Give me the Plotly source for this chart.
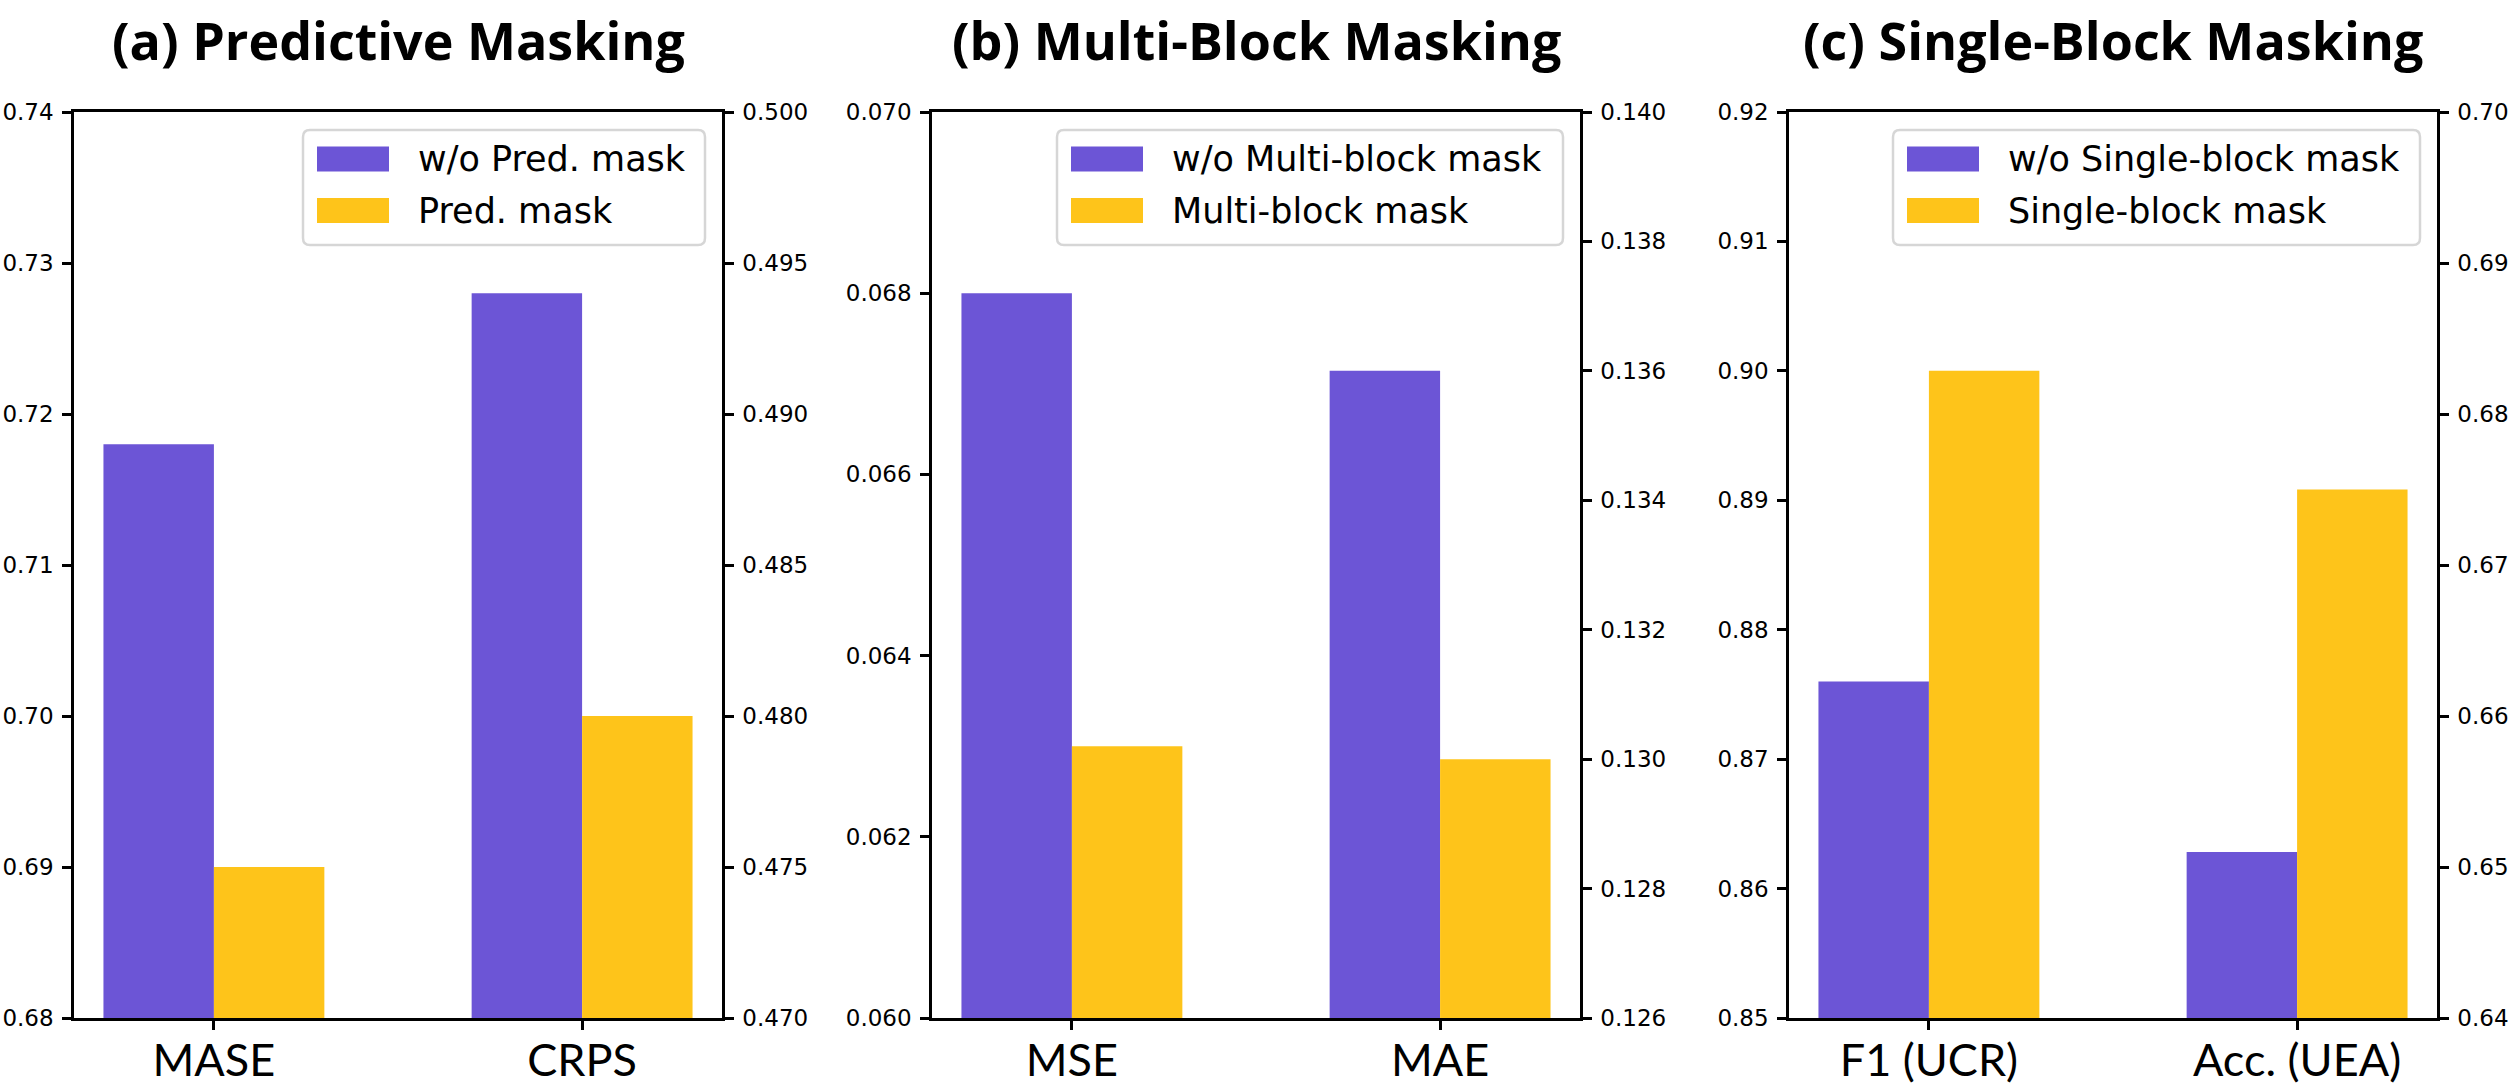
import plotly.graph_objects as go

W, H = 2511, 1088

# ---------------- data ----------------
panel_titles = ["(a) Predictive Masking", "(b) Multi-Block Masking", "(c) Single-Block Masking"]
categories_a = ["MASE", "CRPS"]
categories_b = ["MSE", "MAE"]
categories_c = ["F1 (UCR)", "Acc. (UEA)"]
series_a = ["w/o Pred. mask", "Pred. mask"]
series_b = ["w/o Multi-block mask", "Multi-block mask"]
series_c = ["w/o Single-block mask", "Single-block mask"]
# first value -> left axis metric, second value -> right axis metric
without_a = [0.718, 0.494]
with_a = [0.690, 0.480]
without_b = [0.068, 0.136]
with_b = [0.063, 0.130]
without_c = [0.876, 0.651]
with_c = [0.900, 0.675]
left_ranges = [[0.68, 0.74], [0.060, 0.070], [0.85, 0.92]]
left_dticks = [0.01, 0.002, 0.01]
left_formats = [".2f", ".3f", ".2f"]
right_ranges = [[0.470, 0.500], [0.126, 0.140], [0.64, 0.70]]
right_dticks = [0.005, 0.002, 0.01]
right_formats = [".3f", ".3f", ".2f"]
colors = ["#6C55D6", "#FEC41A"]

categories = [categories_a, categories_b, categories_c]
series = [series_a, series_b, series_c]
without_vals = [without_a, without_b, without_c]
with_vals = [with_a, with_b, with_c]

# ---------------- layout constants (pixels) ----------------
panel_left = [74, 932, 1789]
panel_w = 648
top_px, bottom_px = 112, 1018
legend_left = [303, 1057, 1893]
legend_top, legend_bottom = 130, 245
row_y = [159, 210.5]
BAR_W = 0.3
LINE_W = 2.5


def px(x):
    return x / W


def py(y):
    return 1 - y / H


fig = go.Figure()
layout = dict(
    width=W, height=H, margin=dict(l=0, r=0, t=0, b=0, autoexpand=False),
    paper_bgcolor="white", plot_bgcolor="white",
    showlegend=False, barmode="overlay",
)

shapes = []
annotations = []

for i in range(3):
    xname = "x" if i == 0 else f"x{i+1}"
    yl = 2 * i + 1
    yr = 2 * i + 2
    ylname = "y" if yl == 1 else f"y{yl}"
    yrname = f"y{yr}"
    dom_x = [px(panel_left[i]), px(panel_left[i] + panel_w)]
    dom_y = [py(bottom_px), py(top_px)]

    # bars: category 0 on left axis, category 1 on right axis
    for ci, yname in enumerate([ylname, yrname]):
        fig.add_trace(go.Bar(
            x=[ci], y=[without_vals[i][ci]], xaxis=xname, yaxis=yname,
            width=BAR_W, offset=-BAR_W, marker=dict(color=colors[0], line=dict(width=0)),
            name=series[i][0],
        ))
        fig.add_trace(go.Bar(
            x=[ci], y=[with_vals[i][ci]], xaxis=xname, yaxis=yname,
            width=BAR_W, offset=0, marker=dict(color=colors[1], line=dict(width=0)),
            name=series[i][1],
        ))

    xkey = "xaxis" if i == 0 else f"xaxis{i+1}"
    ylkey = "yaxis" if yl == 1 else f"yaxis{yl}"
    yrkey = f"yaxis{yr}"
    layout[xkey] = dict(
        domain=dom_x, anchor=ylname, range=[-0.38, 1.38], automargin=False,
        tickvals=[0, 1], ticktext=categories[i],
        ticks="outside", ticklen=9, tickwidth=LINE_W, tickcolor="black",
        tickfont=dict(family="Lato", size=45, color="black"),
        ticklabelstandoff=-8,
        showline=True, linecolor="black", linewidth=LINE_W, mirror=True,
        showgrid=False, zeroline=False, fixedrange=True,
    )
    layout[ylkey] = dict(
        domain=dom_y, anchor=xname, side="left", range=left_ranges[i], automargin=False,
        tick0=left_ranges[i][0], dtick=left_dticks[i], tickformat=left_formats[i],
        ticks="outside", ticklen=9, tickwidth=LINE_W, tickcolor="black",
        tickfont=dict(family="DejaVu Sans", size=23, color="black"),
        ticklabelstandoff=4,
        showline=True, linecolor="black", linewidth=LINE_W,
        showgrid=False, zeroline=False, fixedrange=True,
    )
    layout[yrkey] = dict(
        domain=dom_y, anchor=xname, side="right", overlaying=ylname, range=right_ranges[i],
        automargin=False,
        tick0=right_ranges[i][0], dtick=right_dticks[i], tickformat=right_formats[i],
        ticks="outside", ticklen=9, tickwidth=LINE_W, tickcolor="black",
        tickfont=dict(family="DejaVu Sans", size=23, color="black"),
        ticklabelstandoff=4,
        showline=True, linecolor="black", linewidth=LINE_W,
        showgrid=False, zeroline=False, fixedrange=True,
    )

    # title
    annotations.append(dict(
        text=f"<b>{panel_titles[i]}</b>", xref="paper", yref="paper",
        x=px(panel_left[i] + panel_w / 2), y=py(40), xanchor="center", yanchor="middle",
        showarrow=False, font=dict(family="Open Sans", size=52, color="black"),
    ))

    # legend box (rounded)
    x0, x1 = legend_left[i], panel_left[i] + panel_w - 17
    y0, y1 = legend_top, legend_bottom
    r = 7
    rx, ry = r / W, r / H
    X0, X1, Y0, Y1 = px(x0), px(x1), py(y1), py(y0)
    path = (f"M{X0+rx},{Y0} L{X1-rx},{Y0} Q{X1},{Y0} {X1},{Y0+ry} "
            f"L{X1},{Y1-ry} Q{X1},{Y1} {X1-rx},{Y1} L{X0+rx},{Y1} "
            f"Q{X0},{Y1} {X0},{Y1-ry} L{X0},{Y0+ry} Q{X0},{Y0} {X0+rx},{Y0} Z")
    shapes.append(dict(type="path", xref="paper", yref="paper", path=path,
                       fillcolor="rgba(255,255,255,0.8)",
                       line=dict(color="#d6d6d6", width=2.5), layer="above"))
    for k in range(2):
        shapes.append(dict(type="rect", xref="paper", yref="paper",
                           x0=px(x0 + 14), x1=px(x0 + 86),
                           y0=py(row_y[k] + 12.5), y1=py(row_y[k] - 12.5),
                           fillcolor=colors[k], line=dict(width=0), layer="above"))
        annotations.append(dict(
            text=series[i][k], xref="paper", yref="paper",
            x=px(x0 + 113), y=py(row_y[k]), xanchor="left", yanchor="middle",
            showarrow=False, font=dict(family="DejaVu Sans", size=35, color="black"),
        ))

layout["shapes"] = shapes
layout["annotations"] = annotations
fig.update_layout(**layout)
fig.write_html("out.html")
